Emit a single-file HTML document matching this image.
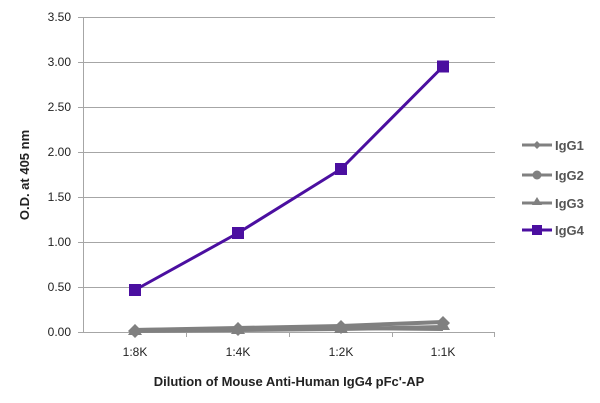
<!DOCTYPE html>
<html><head><style>body{margin:0;background:#fff}svg{display:block}text{font-family:"Liberation Sans",sans-serif}</style></head><body>
<svg width="600" height="403" xmlns="http://www.w3.org/2000/svg">
<g stroke="#a6a6a6" stroke-width="1">
<line x1="83" y1="17.5" x2="495" y2="17.5"/><line x1="83" y1="62.5" x2="495" y2="62.5"/><line x1="83" y1="107.5" x2="495" y2="107.5"/><line x1="83" y1="152.5" x2="495" y2="152.5"/><line x1="83" y1="197.5" x2="495" y2="197.5"/><line x1="83" y1="242.5" x2="495" y2="242.5"/><line x1="83" y1="287.5" x2="495" y2="287.5"/>
<line x1="83.5" y1="17" x2="83.5" y2="332"/><line x1="78" y1="332.5" x2="495" y2="332.5"/>
<line x1="186.5" y1="332" x2="186.5" y2="337"/><line x1="289.5" y1="332" x2="289.5" y2="337"/><line x1="392.5" y1="332" x2="392.5" y2="337"/><line x1="494.5" y1="332" x2="494.5" y2="337"/>
<line x1="78" y1="17.5" x2="83" y2="17.5"/><line x1="78" y1="62.5" x2="83" y2="62.5"/><line x1="78" y1="107.5" x2="83" y2="107.5"/><line x1="78" y1="152.5" x2="83" y2="152.5"/><line x1="78" y1="197.5" x2="83" y2="197.5"/><line x1="78" y1="242.5" x2="83" y2="242.5"/><line x1="78" y1="287.5" x2="83" y2="287.5"/>
</g>
<g font-size="12" fill="#222" text-anchor="end">
<text x="71" y="21">3.50</text><text x="71" y="66">3.00</text><text x="71" y="111">2.50</text><text x="71" y="156">2.00</text><text x="71" y="201">1.50</text><text x="71" y="246">1.00</text><text x="71" y="291">0.50</text><text x="71" y="336">0.00</text>
</g>
<g font-size="12" fill="#222" text-anchor="middle">
<text x="135" y="356">1:8K</text><text x="238" y="356">1:4K</text><text x="341" y="356">1:2K</text><text x="443" y="356">1:1K</text>
</g>
<text x="289" y="386" font-size="13" font-weight="bold" text-anchor="middle" fill="#222">Dilution of Mouse Anti-Human IgG4 pFc'-AP</text>
<text transform="translate(29,175) rotate(-90)" font-size="13" font-weight="bold" text-anchor="middle" fill="#222">O.D. at 405 nm</text>
<g stroke="#808080" stroke-width="4" fill="none">
<polyline points="135,330 238,328 341,326 443,322"/>
<polyline points="135,331 238,330 341,329 443,327"/>
<polyline points="135,330 238,329 341,328 443,329"/>
</g>
<g fill="#808080">
<polygon points="135,324 142,331 135,338 128,331"/><polygon points="238,322 245,329 238,336 231,329"/><polygon points="341,320 348,327 341,334 334,327"/><polygon points="443,316 450,323 443,330 436,323"/>
<polygon points="135,324 142,335 128,335"/><polygon points="238,322 245,334 231,334"/><polygon points="341,321 348,333 334,333"/><polygon points="443,318 450,330 436,330"/>
</g>
<polyline points="135,290 238,233 341,169 443,66.5" stroke="#4b0fa0" stroke-width="3" fill="none"/>
<g fill="#4b0fa0">
<rect x="129" y="284" width="12" height="12"/><rect x="232" y="227" width="12" height="12"/><rect x="335" y="163" width="12" height="12"/><rect x="437" y="60.5" width="12" height="12"/>
</g>
<g font-size="13" font-weight="bold" fill="#555">
<line x1="522" y1="145" x2="552" y2="145" stroke="#808080" stroke-width="3"/><polygon points="537,141 541,145 537,149 533,145" fill="#808080"/><text x="555" y="150">IgG1</text>
<line x1="522" y1="175" x2="552" y2="175" stroke="#808080" stroke-width="3"/><circle cx="537" cy="175" r="4.5" fill="#808080"/><text x="555" y="180">IgG2</text>
<line x1="522" y1="203" x2="552" y2="203" stroke="#808080" stroke-width="3"/><polygon points="537,197 542,205 532,205" fill="#808080"/><text x="555" y="208">IgG3</text>
<line x1="522" y1="230" x2="552" y2="230" stroke="#4b0fa0" stroke-width="3"/><rect x="532" y="225" width="10" height="10" fill="#4b0fa0"/><text x="555" y="235">IgG4</text>
</g>
</svg>
</body></html>
